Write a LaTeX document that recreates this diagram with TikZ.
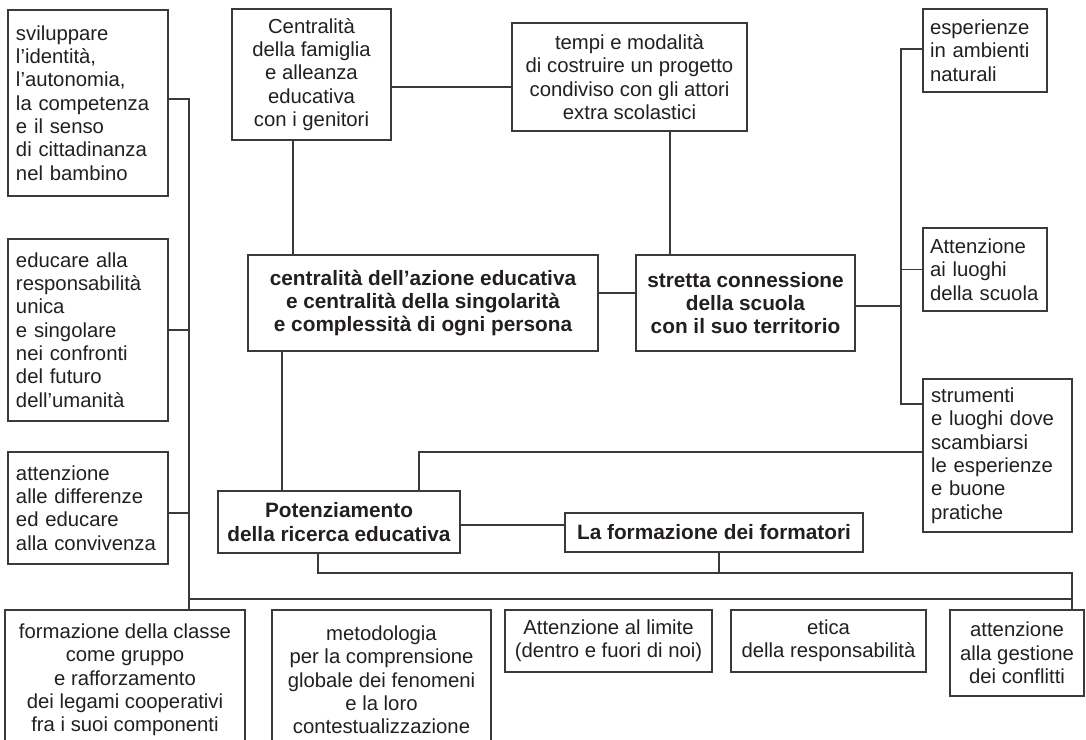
\documentclass[tikz,border=0pt]{standalone}
\usepackage{fontspec}
\setmainfont{Liberation Sans}
\usetikzlibrary{calc}
\definecolor{ink}{HTML}{231F20}
\definecolor{linec}{HTML}{3A3A3A}
\begin{document}
\hyphenpenalty=10000 \exhyphenpenalty=10000
\begin{tikzpicture}[x=1pt,y=-1pt,
  box/.style={draw=linec, line width=1.1pt, inner sep=0pt, text=ink,
    font=\fontsize{20.3pt}{23.3pt}\selectfont},
  lbox/.style={box, align=left, text width=#1,
    execute at begin node={\leftskip=4pt}},
  cbox/.style={box, align=center},
  bbox/.style={box, align=center, font=\bfseries\fontsize{20.8pt}{23.3pt}\selectfont},
  conn/.style={draw=linec, line width=1.1pt}]
\useasboundingbox (0,0) rectangle (1086,739);
\clip (0,0) rectangle (1086,739);

% left column
\node[lbox=152pt, minimum width=160pt, minimum height=186pt] (A) at (88,103)
  {sviluppare\\l’identità,\\l’autonomia,\\la competenza\\e il senso\\di cittadinanza\\nel bambino};
\node[lbox=152pt, minimum width=160pt, minimum height=182pt] (B) at (88,330)
  {educare alla\\responsabilità\\unica\\e singolare\\nei confronti\\del futuro\\dell’umanità};
\node[lbox=152pt, minimum width=160pt, minimum height=112pt] (C) at (88,508)
  {attenzione\\alle differenze\\ed educare\\alla convivenza};

% top middle
\node[cbox, minimum width=159pt, minimum height=131pt] (D) at (311.5,74.5)
  {Centralità\\della famiglia\\e alleanza\\educativa\\con i genitori};
\node[cbox, minimum width=235pt, minimum height=108pt] (E) at (629.5,77)
  {tempi e modalità\\di costruire un progetto\\condiviso con gli attori\\extra scolastici};

% central
\node[bbox, minimum width=350pt, minimum height=96pt] (F) at (423,303)
  {centralità dell’azione educativa\\e centralità della singolarità\\e complessità di ogni persona};
\node[bbox, minimum width=219pt, minimum height=96pt] (G) at (745.5,303)
  {stretta connessione\\della scuola\\con il suo territorio};

% right column
\node[lbox=118pt, minimum width=124pt, minimum height=83pt] (H) at (985,50.5)
  {esperienze\\in ambienti\\naturali};
\node[lbox=118pt, minimum width=124pt, minimum height=83pt] (I) at (985,269.5)
  {Attenzione\\ai luoghi\\della scuola};
\node[lbox=141pt, minimum width=149pt, minimum height=153pt] (J) at (997.5,455.5)
  {strumenti\\e luoghi dove\\scambiarsi\\le esperienze\\e buone\\pratiche};

% lower middle
\node[bbox, minimum width=242pt, minimum height=62pt] (K) at (339,522)
  {Potenziamento\\della ricerca educativa};
\node[bbox, minimum width=298pt, minimum height=39pt] (L) at (714,532.5)
  {La formazione dei formatori};

% bottom row
\node[cbox, minimum width=240pt, minimum height=140pt] (M) at (125,680)
  {formazione della classe\\come gruppo\\e rafforzamento\\dei legami cooperativi\\fra i suoi componenti};
\node[cbox, minimum width=219pt, minimum height=140pt] (N) at (381.5,680)
  {metodologia\\per la comprensione\\globale dei fenomeni\\e la loro\\contestualizzazione};
\node[cbox, minimum width=207pt, minimum height=62pt] (O) at (608.5,641)
  {Attenzione al limite\\(dentro e fuori di noi)};
\node[cbox, minimum width=195pt, minimum height=62pt] (P) at (828.5,641)
  {etica\\della responsabilità};
\node[cbox, minimum width=134pt, minimum height=86pt] (Q) at (1017,653)
  {attenzione\\alla gestione\\dei conflitti};

% bus coordinates
\coordinate (lbus) at (189,0);
\coordinate (rbus) at (901,0);

% left bus
\draw[conn] (A.east |- 0,99) -| (lbus |- M.north);
\draw[conn] (B.east) -- (B.east -| lbus);
\draw[conn] (C.east |- 0,513) -- (lbus |- 0,513);
\draw[conn] (lbus |- 0,599) -- (1072,599);

% top connections
\draw[conn] (D.east |- 0,87) -- (E.west |- 0,87);
\draw[conn] (293,0 |- D.south) -- (293,0 |- F.north);
\draw[conn] (670,0 |- E.south) -- (670,0 |- G.north);
\draw[conn] (F.east |- 0,293) -- (G.west |- 0,293);
\draw[conn] (G.east |- 0,306) -- (rbus |- 0,306);

% right bus
\draw[conn] (H.west |- 0,49) -| (rbus |- 0,404) -- (J.west |- 0,404);
\draw[conn] (I.west) -- (I.west -| rbus);
\draw[conn] (J.west |- 0,452) -| (419,0 |- K.north);

% lower connections
\draw[conn] (282,0 |- F.south) -- (282,0 |- K.north);
\draw[conn] (K.east |- 0,525) -- (L.west |- 0,525);
\draw[conn] (318,0 |- K.south) |- (1072,573) -- (1072,0 |- Q.north);
\draw[conn] (719,0 |- L.south) -- (719,573);
\end{tikzpicture}
\end{document}
